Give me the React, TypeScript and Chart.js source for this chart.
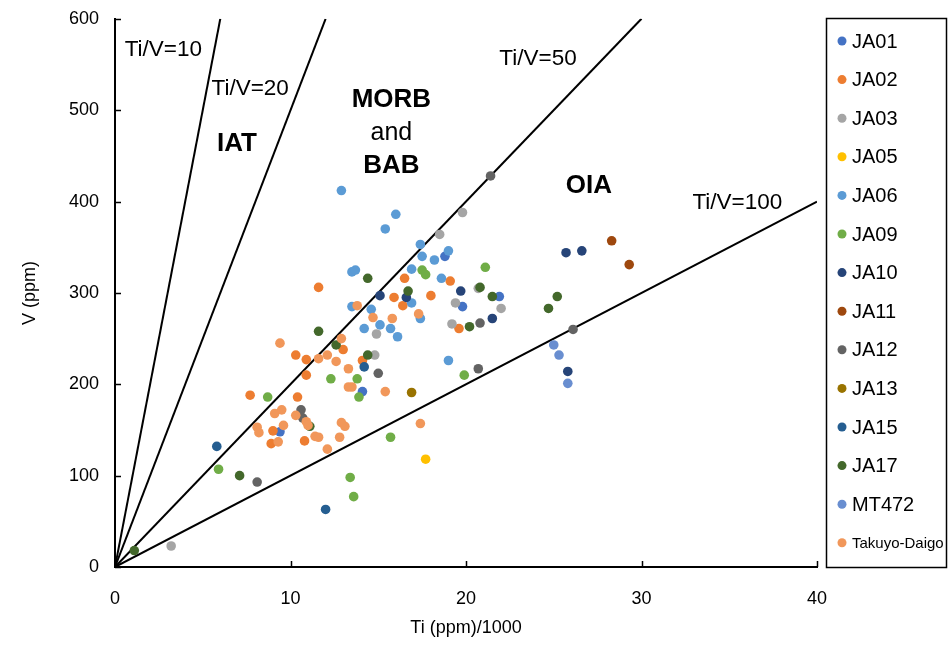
import React, { useEffect, useRef } from "react";
import { Chart, registerables } from "chart.js";

Chart.register(...registerables);

const FONT = "'Liberation Sans', Arial, sans-serif";

// ---- data (Ti in ppm/1000, V in ppm) ----
const seriesNames = [
  "JA01", "JA02", "JA03", "JA05", "JA06", "JA09", "JA10",
  "JA11", "JA12", "JA13", "JA15", "JA17", "MT472", "Takuyo-Daigo",
];
const seriesColors = [
  "#4472C4", "#ED7D31", "#A5A5A5", "#FFC000", "#5B9BD5", "#70AD47", "#264478",
  "#9E480E", "#636363", "#997300", "#255E91", "#43682B", "#698ED0", "#F1975A",
];

const JA01_Ti = [18.8, 19.8, 21.9, 9.4, 14.1];
const JA01_V = [340, 285, 296, 148, 192];

const JA02_Ti = [11.6, 16.5, 19.1, 15.9, 18.0, 19.6, 10.3, 10.9, 14.1, 7.7, 10.9, 10.4, 9.0, 8.9, 10.8, 13.0, 16.4];
const JA02_V = [306, 316, 313, 295, 297, 261, 232, 227, 226, 188, 210, 186, 149, 135, 138, 238, 286];

const JA03_Ti = [19.8, 18.5, 19.4, 14.9, 19.2, 14.8, 20.7, 22.0, 3.2];
const JA03_V = [388, 364, 289, 255, 266, 232, 305, 283, 23];

const JA05_Ti = [17.7];
const JA05_V = [118];

const JA06_Ti = [12.9, 16.0, 15.4, 17.4, 17.5, 18.2, 19.0, 13.5, 13.7, 16.9, 18.6, 13.5, 14.6, 17.4, 15.1, 14.2, 15.7, 16.1, 19.0, 16.9];
const JA06_V = [412, 386, 370, 353, 340, 336, 346, 323, 325, 326, 316, 285, 282, 272, 265, 261, 261, 252, 226, 289];

const JA09_Ti = [17.5, 17.7, 21.1, 5.9, 13.4, 13.6, 8.7, 12.3, 13.8, 13.9, 19.9, 15.7];
const JA09_V = [325, 320, 328, 107, 98, 77, 186, 206, 206, 186, 210, 142];

const JA10_Ti = [15.1, 16.6, 19.7, 21.5, 25.7, 26.6, 25.8];
const JA10_V = [297, 295, 302, 272, 344, 346, 214];

const JA11_Ti = [28.3, 29.3];
const JA11_V = [357, 331];

const JA12_Ti = [21.4, 20.8, 26.1, 8.1, 10.6, 10.7, 15.0, 20.7];
const JA12_V = [428, 267, 260, 93, 172, 163, 212, 217];

const JA13_Ti = [16.9];
const JA13_V = [191];

const JA15_Ti = [14.2, 5.8, 12.0];
const JA15_V = [219, 132, 63];

const JA17_Ti = [14.4, 16.7, 20.2, 11.6, 12.6, 14.4, 20.8, 21.5, 25.2, 24.7, 1.1, 7.1, 11.1];
const JA17_V = [316, 302, 263, 258, 243, 232, 306, 296, 296, 283, 18, 100, 154];

const MT472_Ti = [25.0, 25.3, 25.8];
const MT472_V = [243, 232, 201];

const TD_Ti = [13.8, 17.3, 14.7, 15.8, 9.4, 12.9, 11.6, 12.1, 12.6, 13.3, 13.3, 13.5, 15.4, 9.1, 9.5, 9.6, 8.1, 8.2, 9.3, 10.3, 10.9, 11.0, 11.4, 11.6, 12.1, 12.8, 13.1, 12.9, 17.4];
const TD_V = [286, 277, 273, 272, 245, 250, 228, 232, 225, 217, 197, 197, 192, 168, 172, 155, 153, 147, 137, 166, 159, 155, 143, 142, 129, 142, 154, 158, 157];

const seriesTi = [JA01_Ti, JA02_Ti, JA03_Ti, JA05_Ti, JA06_Ti, JA09_Ti, JA10_Ti, JA11_Ti, JA12_Ti, JA13_Ti, JA15_Ti, JA17_Ti, MT472_Ti, TD_Ti];
const seriesV = [JA01_V, JA02_V, JA03_V, JA05_V, JA06_V, JA09_V, JA10_V, JA11_V, JA12_V, JA13_V, JA15_V, JA17_V, MT472_V, TD_V];

// Ti/V reference lines: end points (start at origin)
const ratioLabels = ["Ti/V=10", "Ti/V=20", "Ti/V=50", "Ti/V=100"];
const ratioEndTi = [6, 12, 30, 40];
const ratioEndV = [600, 600, 600, 400];

// axis ticks
const xTicks = [0, 10, 20, 30, 40];
const yTicks = [0, 100, 200, 300, 400, 500, 600];

// text annotations
const annTexts = ["Ti/V=10", "Ti/V=20", "Ti/V=50", "Ti/V=100", "IAT", "MORB", "and", "BAB", "OIA"];
const annTi = [0.55, 5.5, 21.9, 32.9, 6.95, 15.75, 15.75, 15.75, 27.0];
const annV = [566, 523, 556, 399, 463, 511, 475, 439, 417];
const annSize = [22.5, 22.5, 22.5, 22.5, 26, 26, 25, 26, 26];
const annBold = [false, false, false, false, true, true, false, true, true];
const annAlign = ["left", "left", "left", "left", "center", "center", "center", "center", "center"];

const overlayPlugin = {
  id: "overlay",
  afterDraw(chart: any) {
    const ctx = chart.ctx as CanvasRenderingContext2D;
    const xs = chart.scales.x;
    const ys = chart.scales.y;
    const area = chart.chartArea;
    ctx.save();
    // inward tick marks
    ctx.strokeStyle = "#000";
    ctx.lineWidth = 1.5;
    ctx.beginPath();
    xTicks.forEach((t) => {
      const px = Math.round(xs.getPixelForValue(t)) + 0.5;
      ctx.moveTo(px, area.bottom);
      ctx.lineTo(px, area.bottom - 6);
    });
    yTicks.forEach((t) => {
      const py = Math.round(ys.getPixelForValue(t)) + 0.5;
      ctx.moveTo(area.left, py);
      ctx.lineTo(area.left + 6, py);
    });
    ctx.stroke();

    // annotations
    ctx.fillStyle = "#000";
    ctx.textBaseline = "middle";
    annTexts.forEach((t, i) => {
      ctx.font = (annBold[i] ? "bold " : "") + annSize[i] + "px " + FONT;
      ctx.textAlign = annAlign[i] as CanvasTextAlign;
      ctx.fillText(t, xs.getPixelForValue(annTi[i]), ys.getPixelForValue(annV[i]));
    });

    // axis titles
    ctx.font = "18px " + FONT;
    ctx.textAlign = "center";
    ctx.fillText("Ti (ppm)/1000", (area.left + area.right) / 2, 628);
    ctx.save();
    ctx.translate(30, (area.top + area.bottom) / 2);
    ctx.rotate(-Math.PI / 2);
    ctx.fillText("V (ppm)", 0, 0);
    ctx.restore();

    // legend
    ctx.lineWidth = 1.5;
    ctx.strokeStyle = "#000";
    ctx.strokeRect(826.5, 18.5, 120, 549);
    seriesNames.forEach((n, i) => {
      const cy = 41 + i * 38.6;
      ctx.fillStyle = seriesColors[i];
      ctx.beginPath();
      ctx.arc(842, cy, 4.5, 0, Math.PI * 2);
      ctx.fill();
      ctx.fillStyle = "#000";
      ctx.textAlign = "left";
      ctx.font = (n.length > 6 ? "15px " : "20px ") + FONT;
      ctx.fillText(n, 852, cy + 1);
    });
    ctx.restore();
  },
};

export default function App() {
  const ref = useRef<HTMLCanvasElement>(null);
  useEffect(() => {
    if (!ref.current) return;
    const datasets: any[] = [];
    seriesNames.forEach((name, i) => {
      datasets.push({
        type: "scatter",
        label: name,
        data: seriesTi[i].map((t, k) => ({ x: t, y: seriesV[i][k] })),
        backgroundColor: seriesColors[i],
        borderColor: seriesColors[i],
        borderWidth: 0,
        pointRadius: 4.8,
        pointHoverRadius: 4.8,
        order: 100 - i,
      });
    });
    ratioLabels.forEach((lab, i) => {
      datasets.push({
        type: "scatter",
        label: lab,
        data: [
          { x: 0, y: 0 },
          { x: ratioEndTi[i], y: ratioEndV[i] },
        ],
        showLine: true,
        borderColor: "#000",
        borderWidth: 2,
        pointRadius: 0,
        fill: false,
        order: 200,
      });
    });
    const chart = new Chart(ref.current, {
      type: "scatter",
      data: { datasets },
      options: {
        animation: false,
        responsive: false,
        devicePixelRatio: 1,
        layout: { padding: { left: 0, top: 9, right: 133, bottom: 0 } },
        plugins: { legend: { display: false }, tooltip: { enabled: false } },
        scales: {
          x: {
            type: "linear",
            min: 0,
            max: 40,
            afterFit: (s: any) => { s.height = 81; },
            afterBuildTicks: (s: any) => { s.ticks = xTicks.map((v) => ({ value: v })); },
            ticks: { color: "#000", font: { family: FONT, size: 18 }, padding: 13 },
            grid: { display: false },
            border: { display: true, color: "#000", width: 2 },
          },
          y: {
            type: "linear",
            min: 0,
            max: 600,
            afterFit: (s: any) => { s.width = 115; },
            afterBuildTicks: (s: any) => { s.ticks = yTicks.map((v) => ({ value: v })); },
            ticks: { color: "#000", font: { family: FONT, size: 18 }, padding: 8 },
            grid: { display: false },
            border: { display: true, color: "#000", width: 2 },
          },
        },
      },
      plugins: [overlayPlugin],
    });
    return () => chart.destroy();
  }, []);
  return (
    <div style={{ position: "absolute", left: 0, top: 0, width: 950, height: 648, background: "#fff" }}>
      <canvas ref={ref} width={950} height={648} style={{ display: "block" }} />
    </div>
  );
}
